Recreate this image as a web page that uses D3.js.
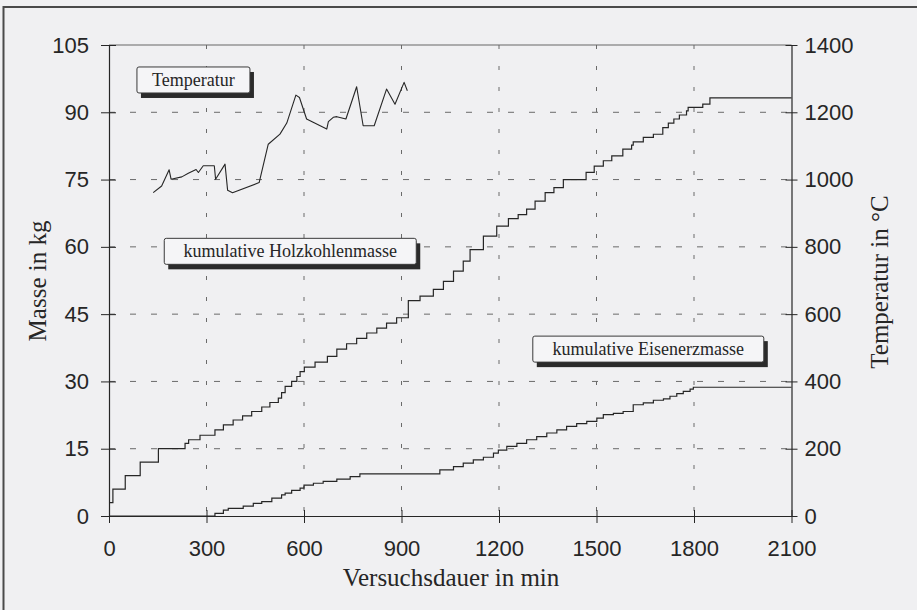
<!DOCTYPE html>
<html>
<head>
<meta charset="utf-8">
<script src="https://cdn.jsdelivr.net/npm/d3@7"></script>
<style>
  html, body { margin: 0; padding: 0; background: #f0f0f2; }
  svg { display: block; }
</style>
</head>
<body>
<svg id="chart" width="917" height="610"></svg>
<script>
// --- DATA ---
// cumulative charcoal mass, step after [minute, kg]
const holzkohleTime = [0, 12, 50, 96, 152, 234, 245, 280, 326, 352, 382, 411, 439, 470, 495, 521, 531, 542, 562, 578, 588, 601, 634, 672, 701, 731, 762, 793, 824, 854, 885, 921, 957, 998, 1029, 1060, 1090, 1111, 1152, 1193, 1229, 1259, 1285, 1311, 1342, 1369, 1398, 1468, 1493, 1521, 1547, 1581, 1608, 1613, 1644, 1675, 1704, 1721, 1738, 1755, 1777, 1782, 1827, 1849, 2100];
const holzkohleMass = [3, 6, 9, 12, 15, 16.2, 17, 18, 19.2, 20.3, 21.4, 22.3, 23.3, 24.3, 25.3, 26.3, 27.5, 28.9, 30, 31.1, 32.2, 33.2, 34.3, 35.6, 37.2, 38.4, 39.6, 40.8, 41.9, 43, 44.2, 48, 49, 50.5, 52.3, 54.6, 56.8, 59.4, 62.4, 64.6, 66.3, 67.2, 68.4, 70.2, 72.1, 73.2, 75, 76.6, 78, 79.2, 80.3, 81.8, 82.7, 83.4, 84.4, 85.1, 86.6, 87.6, 88.5, 89.4, 90.3, 91.1, 91.8, 93.2, 93.2];

// cumulative iron ore mass, step after [minute, kg]
const eisenerzTime = [0, 316, 326, 352, 367, 413, 444, 470, 501, 531, 542, 562, 588, 600, 629, 659, 701, 742, 772, 1018, 1060, 1090, 1121, 1152, 1183, 1198, 1224, 1255, 1285, 1316, 1347, 1378, 1408, 1439, 1470, 1501, 1521, 1552, 1582, 1613, 1644, 1675, 1706, 1726, 1747, 1767, 1788, 1798, 2100];
const eisenerzMass = [0, 0, 0.6, 1.3, 1.7, 2.2, 2.8, 3.2, 4, 4.7, 5.1, 5.7, 6.2, 6.9, 7.3, 7.7, 8.2, 8.8, 9.4, 10.3, 11, 11.8, 12.5, 13.1, 14, 14.7, 15.5, 16.2, 17, 17.7, 18.5, 19.2, 20, 20.6, 21.1, 21.8, 22.6, 22.9, 23.3, 24.8, 25.2, 25.8, 26.1, 26.7, 27.3, 27.8, 28.3, 28.7, 28.7];

// furnace temperature [minute, °C]
const tempTime = [136, 162, 185, 191, 224, 244, 268, 275, 290, 324, 328, 357, 365, 380, 462, 490, 526, 547, 575, 586, 608, 670, 675, 690, 701, 729, 762, 782, 816, 854, 880, 908, 918];
const tempValue = [961, 981, 1029, 1001, 1008, 1019, 1030, 1021, 1041, 1041, 1001, 1046, 968, 961, 991, 1105, 1135, 1168, 1251, 1244, 1180, 1150, 1172, 1185, 1187, 1180, 1276, 1160, 1160, 1269, 1224, 1289, 1264];

const xTicks = [0, 300, 600, 900, 1200, 1500, 1800, 2100];
const massTicks = [0, 15, 30, 45, 60, 75, 90, 105];
const tempTicks = [0, 200, 400, 600, 800, 1000, 1200, 1400];

// label boxes anchored in data units (top-left corner)
const labels = [
    { text: "Temperatur", t: 86, m: 100.1, w: 113 },
    { text: "kumulative Holzkohlenmasse", t: 170, m: 61.9, w: 252 },
    { text: "kumulative Eisenerzmasse", t: 1304, m: 40.1, w: 231 }
];

// --- LAYOUT ---
const svg = d3.select("#chart");
const plotLeft = 109, plotRight = 791.5, plotTop = 45, plotBottom = 516;
const serif = "'Liberation Serif', 'Times New Roman', serif";
const sans = "'Liberation Sans', Arial, sans-serif";
const ink = "#262626";

const x = d3.scaleLinear().domain([0, 2100]).range([plotLeft, plotRight]);
const y = d3.scaleLinear().domain([0, 105]).range([plotBottom, plotTop]);
const yT = d3.scaleLinear().domain([0, 1400]).range([plotBottom, plotTop]);

// page frame (scan edge)
svg.append("path")
    .attr("d", "M3.5,610 V7 H917")
    .attr("fill", "none").attr("stroke", "#4a4a4a").attr("stroke-width", 2);

// --- GRID ---
const grid = svg.append("g");
grid.selectAll("line.h").data(massTicks.slice(1, -1)).enter().append("line")
    .attr("x1", plotLeft).attr("x2", plotRight)
    .attr("y1", d => y(d)).attr("y2", d => y(d))
    .attr("stroke", "#6a6a6a").attr("stroke-width", 1)
    .attr("stroke-dasharray", "6,15");
grid.selectAll("line.v").data(xTicks.slice(1, -1)).enter().append("line")
    .attr("x1", d => x(d)).attr("x2", d => x(d))
    .attr("y1", plotTop).attr("y2", plotBottom)
    .attr("stroke", "#6a6a6a").attr("stroke-width", 1)
    .attr("stroke-dasharray", "4,17");

// top edge of plot
svg.append("line")
    .attr("x1", plotLeft).attr("x2", plotRight).attr("y1", plotTop).attr("y2", plotTop)
    .attr("stroke", "#666").attr("stroke-width", 1);

// --- AXES ---
const fmt = d3.format("d");

function styleAxis(g) {
    g.select(".domain").attr("stroke", ink).attr("stroke-width", 1.2);
    g.selectAll(".tick line").attr("stroke", ink).attr("stroke-width", 1);
    g.selectAll(".tick text")
        .attr("fill", ink)
        .style("font-family", sans).style("font-size", "22px");
}

const gLeft = svg.append("g").attr("transform", `translate(${plotLeft},0)`)
    .call(d3.axisLeft(y).tickValues(massTicks).tickFormat(fmt)
        .tickSizeOuter(0).tickSizeInner(8).tickPadding(12));
styleAxis(gLeft);
gLeft.selectAll(".tick line").attr("x1", 7);

const gRight = svg.append("g").attr("transform", `translate(${plotRight},0)`)
    .call(d3.axisRight(yT).tickValues(tempTicks).tickFormat(fmt)
        .tickSizeOuter(0).tickSizeInner(6).tickPadding(7));
styleAxis(gRight);
gRight.selectAll(".tick line").attr("x1", -6);

const gBottom = svg.append("g").attr("transform", `translate(0,${plotBottom})`)
    .call(d3.axisBottom(x).tickValues(xTicks).tickFormat(fmt)
        .tickSizeOuter(0).tickSizeInner(7).tickPadding(17));
styleAxis(gBottom);
gBottom.selectAll(".tick line").attr("y1", -6);

// axis titles
svg.append("text")
    .attr("x", 451).attr("y", 586)
    .attr("text-anchor", "middle").attr("fill", ink)
    .style("font-family", serif).style("font-size", "25px")
    .text("Versuchsdauer in min");

svg.append("text")
    .attr("transform", "translate(46,281) rotate(-90)")
    .attr("text-anchor", "middle").attr("fill", ink)
    .style("font-family", serif).style("font-size", "25px")
    .text("Masse in kg");

svg.append("text")
    .attr("transform", "translate(888,282) rotate(-90)")
    .attr("text-anchor", "middle").attr("fill", ink)
    .style("font-family", serif).style("font-size", "25px")
    .text("Temperatur in °C");

// --- SERIES ---
const stepLine = d3.line().curve(d3.curveStepAfter)
    .x(d => x(d[0])).y(d => y(d[1]));

const holzkohle = d3.zip(holzkohleTime, holzkohleMass);
const eisenerz = d3.zip(eisenerzTime, eisenerzMass);
const temperatur = d3.zip(tempTime, tempValue);

svg.append("path").datum(holzkohle)
    .attr("d", stepLine)
    .attr("fill", "none").attr("stroke", ink).attr("stroke-width", 1.2);

svg.append("path").datum(eisenerz)
    .attr("d", stepLine)
    .attr("fill", "none").attr("stroke", ink).attr("stroke-width", 1.2);

svg.append("path").datum(temperatur)
    .attr("d", d3.line().x(d => x(d[0])).y(d => yT(d[1])))
    .attr("fill", "none").attr("stroke", ink).attr("stroke-width", 1.1)
    .attr("stroke-linejoin", "round");

// --- LABEL BOXES (with drop shadow) ---
const boxH = 26;
const boxes = svg.append("g").selectAll("g").data(labels).enter().append("g")
    .attr("transform", d => `translate(${x(d.t)},${y(d.m)})`);

boxes.append("rect")
    .attr("x", 4).attr("y", 5).attr("width", d => d.w).attr("height", boxH)
    .attr("fill", "#2b2b2b");
boxes.append("rect")
    .attr("width", d => d.w).attr("height", boxH).attr("rx", 2)
    .attr("fill", "#f5f5f7").attr("stroke", "#3a3a3a").attr("stroke-width", 1);
boxes.append("text")
    .attr("x", d => d.w / 2).attr("y", 19)
    .attr("text-anchor", "middle").attr("fill", ink)
    .style("font-family", serif).style("font-size", "18px")
    .text(d => d.text);
</script>
</body>
</html>
